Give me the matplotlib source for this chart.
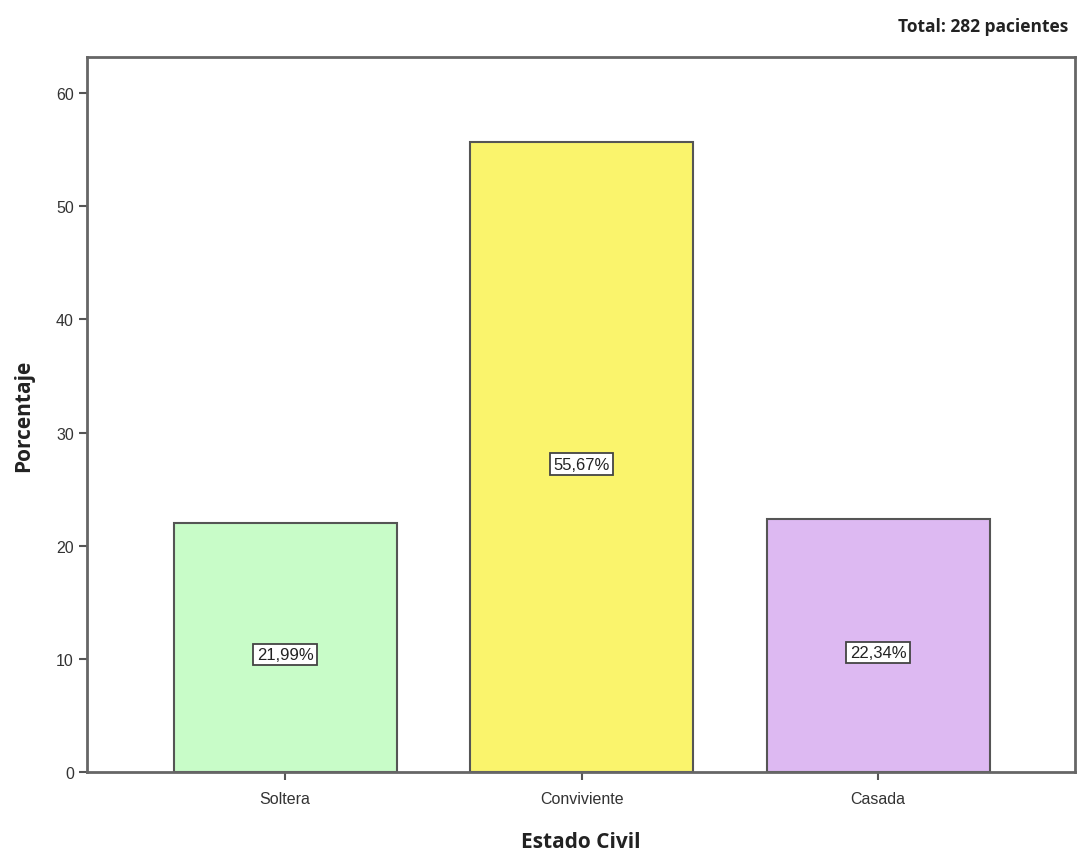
import matplotlib
matplotlib.use("Agg")
import matplotlib.pyplot as plt

categories = ["Soltera", "Conviviente", "Casada"]
values = [21.99, 55.67, 22.34]
labels = ["21,99%", "55,67%", "22,34%"]
colors = ["#C8FCC8", "#FAF46C", "#DDB9F2"]
yticks = [0, 10, 20, 30, 40, 50, 60]

fig = plt.figure(figsize=(10.8, 8.54), dpi=100)
ax = fig.add_axes([87/1080, 1 - 773/854, (1075-87)/1080, (773-58)/854])

x = list(range(len(categories)))
ax.bar(x, values, width=0.752, color=colors, edgecolor="#555555", linewidth=1.5, zorder=2)
for xi, v, lab in zip(x, values, labels):
    ax.annotate(lab, xy=(xi, v / 2), xytext=(0, -5), textcoords="offset points",
                ha="center", va="center", fontsize=12, color="#222222",
                family="Liberation Sans",
                bbox=dict(boxstyle="square,pad=0.2", fc="white", ec="#444444", lw=1.3))

ax.set_xlim(-0.668, 2.664)
ax.set_ylim(0, 63.2)
ax.set_yticks(yticks)
ax.set_yticklabels([str(t) for t in yticks], fontsize=11.5, color="#333333", family="Liberation Sans")
ax.set_xticks(x)
ax.set_xticklabels(categories, fontsize=11.5, color="#333333", family="Liberation Sans")
ax.tick_params(axis="both", direction="out", length=6, width=1.5, color="#555555")
ax.tick_params(axis="x", pad=8)
for s in ax.spines.values():
    s.set_color("#666666")
    s.set_linewidth(2)

ax.set_ylabel("Porcentaje", fontsize=15, fontweight="bold", family="Open Sans", labelpad=16, color="#222222")
ax.set_xlabel("Estado Civil", fontsize=15, fontweight="bold", family="Open Sans", labelpad=18, color="#222222")

fig.text(1068/1080, 1 - 27/854, "Total: 282 pacientes", ha="right", va="center",
         fontsize=12.5, fontweight="bold", family="Open Sans", color="#222222")

fig.savefig("out.png", dpi=100, facecolor="white")
